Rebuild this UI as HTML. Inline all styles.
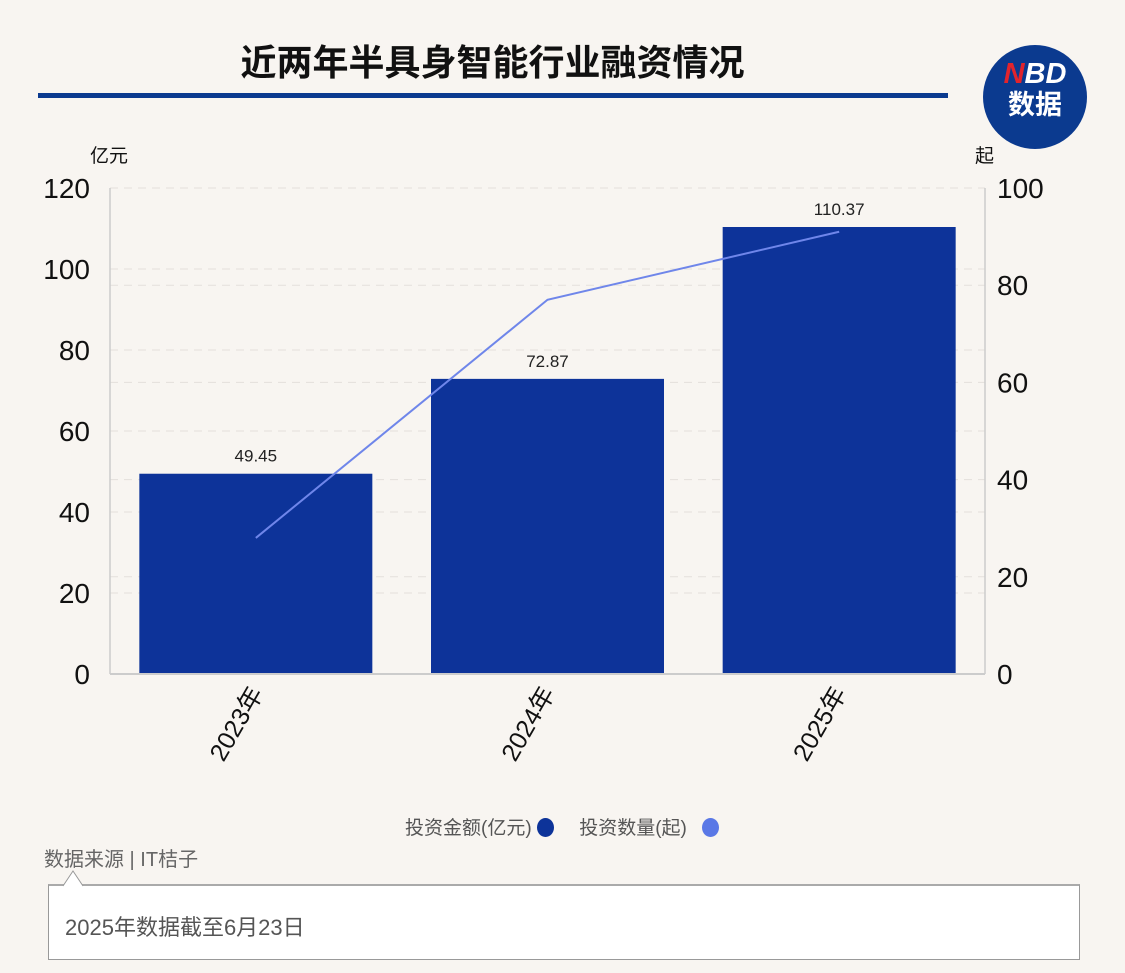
<!DOCTYPE html>
<html><head><meta charset="utf-8"><style>
body{margin:0;width:1125px;height:973px;background:#f8f5f1;overflow:hidden;font-family:"Liberation Sans","Noto Sans CJK SC",sans-serif;position:relative}
.t{position:absolute}
</style></head><body>
<div class="t" style="left:0;width:985px;top:34px;text-align:center;font-size:36px;font-weight:bold;color:#111">近两年半具身智能行业融资情况</div>
<div class="t" style="left:38px;top:93px;width:910px;height:5px;background:#0b3a8f"></div>
<div class="t" style="left:983px;top:45px;width:104px;height:104px;border-radius:50%;background:#0b3a8f;color:#fff;text-align:center;font-weight:bold">
<div style="font-size:29px;margin-top:14px;line-height:30px;font-style:italic"><span style="color:#e2242c">N</span>BD</div>
<div style="font-size:27px;line-height:32px">数据</div></div>
<svg id="c" class="t" style="left:0;top:0" width="1125" height="800"></svg>
<div class="t" style="left:405px;top:813px;font-size:19px;color:#555">
<span>投资金额(亿元) <span style="display:inline-block;width:17px;height:19px;border-radius:50%;background:#0d3399;vertical-align:-3px"></span></span>
<span style="margin-left:20px">投资数量(起) <span style="display:inline-block;width:17px;height:19px;border-radius:50%;background:#5a78e6;vertical-align:-3px;margin-left:10px"></span></span></div>
<div class="t" style="left:44px;top:843px;font-size:20px;color:#666">数据来源 | IT桔子</div>
<div class="t" style="left:48px;top:884px;width:1030px;height:73px;background:#fff;border:1px solid #999;border-top:2px solid #aaa">
<div style="position:absolute;left:16px;top:24px;font-size:22px;color:#555">2025年数据截至6月23日</div></div>
<svg class="t" style="left:62px;top:870px" width="22" height="17"><path d="M1 16 L11 1 L21 16" fill="#fff" stroke="#999"/></svg>
<script>
const categories=["2023年","2024年","2025年"];
const amounts=[49.45,72.87,110.37];
const counts=[28,77,91];
const leftTicks=[0,20,40,60,80,100,120];
const rightTicks=[0,20,40,60,80,100];
const NS="http://www.w3.org/2000/svg",svg=document.getElementById('c');
const x0=110,x1=985,yb=674,yt=188;
const yL=v=>yb-(v/120)*(yb-yt), yR=v=>yb-(v/100)*(yb-yt);
const bw=(x1-x0)/3, cx=i=>x0+bw*(i+0.5);
function mk(t,a,txt){const e=document.createElementNS(NS,t);for(const k in a)e.setAttribute(k,a[k]);if(txt!=null)e.textContent=txt;svg.appendChild(e);return e;}
leftTicks.forEach(v=>{if(v>0){const g=mk('line',{x1:x0,x2:x1,y1:yL(v),y2:yL(v),stroke:'#e4e0dc','stroke-dasharray':'8 6'});

}
const t=mk('text',{x:90,y:yL(v)+10,'text-anchor':'end','font-size':28,fill:'#111'},v);

});
rightTicks.forEach(v=>{if(v>0){const g=mk('line',{x1:x0,x2:x1,y1:yR(v),y2:yR(v),stroke:'#e4e0dc','stroke-dasharray':'8 6'});

}
const t=mk('text',{x:997,y:yR(v)+10,'font-size':28,fill:'#111'},v);

});
const u1=mk('text',{x:90,y:162,'font-size':19,fill:'#111'},'亿元');


const u2=mk('text',{x:975,y:162,'font-size':19,fill:'#111'},'起');


const al=mk('line',{x1:x0,x2:x0,y1:yt,y2:yb,stroke:'#ccc','stroke-width':1.5});


const ar=mk('line',{x1:x1,x2:x1,y1:yt,y2:yb,stroke:'#ccc','stroke-width':1.5});


amounts.forEach((v,i)=>{const b=mk('rect',{x:cx(i)-116.5,y:yL(v),width:233,height:yb-yL(v),fill:'#0d3399'});


const l=mk('text',{x:cx(i),y:yL(v)-12,'text-anchor':'middle','font-size':17,fill:'#222'},v.toFixed(2));


const c=mk('text',{transform:`translate(${cx(i)+8},693) rotate(-60)`,'text-anchor':'end','font-size':25,fill:'#111'},categories[i]);

});
const xa=mk('line',{x1:x0,x2:x1,y1:yb,y2:yb,stroke:'#ccc','stroke-width':2});


const ln=mk('polyline',{points:counts.map((v,i)=>cx(i)+','+yR(v)).join(' '),fill:'none',stroke:'#6f86ea','stroke-width':2});


</script>
</body></html>
